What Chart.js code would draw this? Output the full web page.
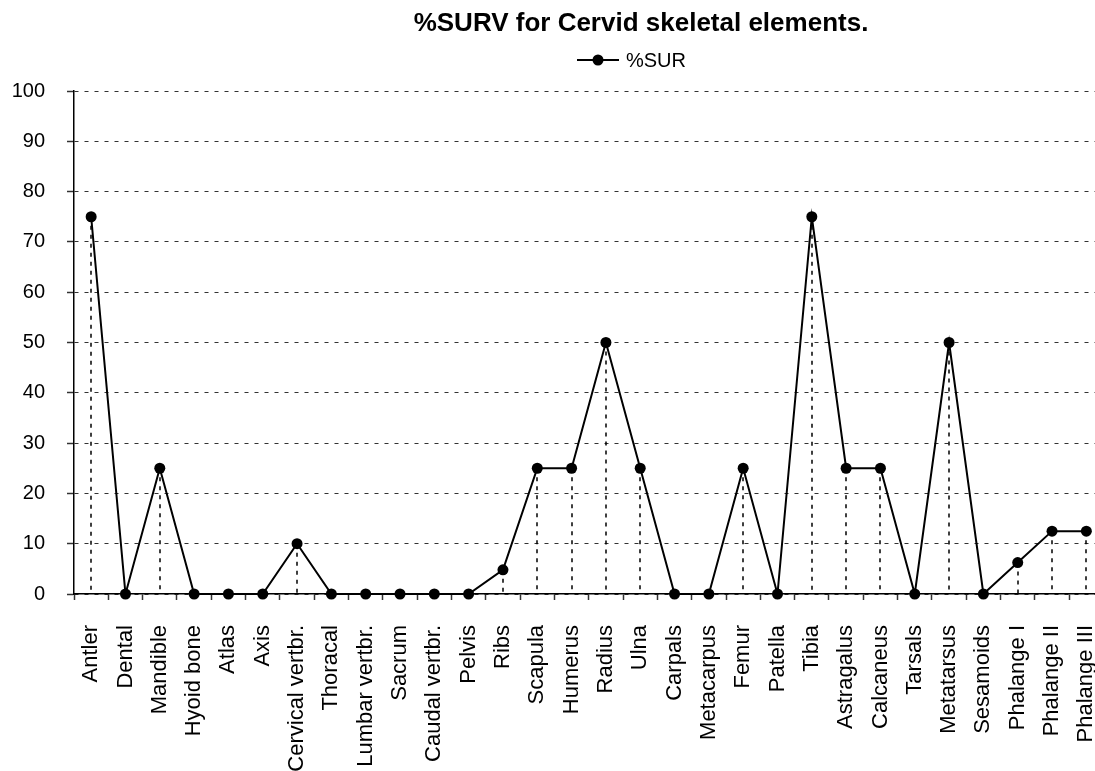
<!DOCTYPE html>
<html lang="en">
<head>
  <meta charset="UTF-8" />
  <title>%SURV for Cervid skeletal elements</title>
  <script src="https://cdn.jsdelivr.net/npm/chart.js"></script>
  <style>
    html, body {
      margin: 0;
      padding: 0;
      background: #fff;
      overflow: hidden;
    }
    canvas { display: block; }
  </style>
</head>
<body>
  <canvas id="survChart" width="1109" height="771"></canvas>

  <script>
    const elements = [
      "Antler", "Dental", "Mandible", "Hyoid bone", "Atlas", "Axis",
      "Cervical vertbr.", "Thoracal", "Lumbar vertbr.", "Sacrum", "Caudal vertbr.",
      "Pelvis", "Ribs", "Scapula", "Humerus", "Radius", "Ulna", "Carpals",
      "Metacarpus", "Femur", "Patella", "Tibia", "Astragalus", "Calcaneus",
      "Tarsals", "Metatarsus", "Sesamoids", "Phalange I", "Phalange II", "Phalange III"
    ];
    const survValues = [
      75, 0, 25, 0, 0, 0,
      10, 0, 0, 0, 0,
      0, 4.8, 25, 25, 50, 25, 0,
      0, 25, 0, 75, 25, 25,
      0, 50, 0, 6.25, 12.5, 12.5
    ];
    const yTicks = [0, 10, 20, 30, 40, 50, 60, 70, 80, 90, 100];
    const chartTitle = "%SURV for Cervid skeletal elements.";
    const seriesName = "%SUR";

    const FONT = "'Liberation Sans', Arial, sans-serif";

    // dotted drop line from every non-zero point down to the category axis
    const dropLines = {
      id: "dropLines",
      beforeDatasetsDraw(chart) {
        const { ctx, scales: { y } } = chart;
        const base = y.getPixelForValue(0);
        const meta = chart.getDatasetMeta(0);
        ctx.save();
        ctx.strokeStyle = "#000";
        ctx.lineWidth = 1.5;
        ctx.setLineDash([4, 5]);
        meta.data.forEach((pt, i) => {
          if (survValues[i] <= 0) return;
          const x = Math.round(pt.x);
          ctx.beginPath();
          ctx.moveTo(x, pt.y);
          ctx.lineTo(x, base);
          ctx.stroke();
        });
        ctx.restore();
      }
    };

    // title and the line+marker legend entry above the plot
    const header = {
      id: "header",
      afterDraw(chart) {
        const ctx = chart.ctx;
        ctx.save();
        ctx.fillStyle = "#000";
        ctx.textBaseline = "middle";
        ctx.textAlign = "center";
        ctx.font = "bold 26px " + FONT;
        ctx.fillText(chartTitle, 641, 24);

        const ly = 60;
        ctx.strokeStyle = "#000";
        ctx.lineWidth = 2;
        ctx.beginPath();
        ctx.moveTo(577, ly);
        ctx.lineTo(619, ly);
        ctx.stroke();
        ctx.beginPath();
        ctx.arc(598, ly, 5.5, 0, Math.PI * 2);
        ctx.fill();

        ctx.textAlign = "left";
        ctx.font = "20px " + FONT;
        ctx.fillText(chart.data.datasets[0].label, 626, ly + 1);
        ctx.restore();
      }
    };

    new Chart(document.getElementById("survChart"), {
      type: "line",
      data: {
        labels: elements,
        datasets: [{
          label: seriesName,
          data: survValues,
          borderColor: "#000",
          borderWidth: 2,
          backgroundColor: "#000",
          pointBackgroundColor: "#000",
          pointBorderColor: "#000",
          pointRadius: 5.5,
          pointBorderWidth: 0,
          tension: 0,
          fill: false,
          clip: false
        }]
      },
      options: {
        responsive: false,
        animation: false,
        layout: { padding: { top: 91, left: 0, right: 0, bottom: 0 } },
        plugins: {
          legend: { display: false },
          title: { display: false },
          tooltip: { enabled: false }
        },
        scales: {
          x: {
            offset: true,
            grid: {
              offset: true,
              drawOnChartArea: false,
              drawTicks: true,
              tickLength: 6,
              tickColor: "#333",
              tickWidth: 1.5
            },
            border: { color: "#000", width: 1.5 },
            ticks: {
              autoSkip: false,
              minRotation: 90,
              maxRotation: 90,
              padding: 25,
              color: "#000",
              font: { family: FONT, size: 22 }
            },
            afterFit: s => {
              s.height = 177;
              s.paddingLeft = 0;
              s.paddingRight = 0;
            }
          },
          y: {
            min: 0,
            max: 100,
            afterBuildTicks: s => { s.ticks = yTicks.map(v => ({ value: v })); },
            grid: {
              color: "#333",
              lineWidth: 1,
              tickLength: 7,
              tickColor: "#333",
              tickWidth: 1.5,
              tickBorderDash: []
            },
            border: { color: "#000", width: 1.5, dash: [4, 6] },
            ticks: {
              padding: 22,
              color: "#000",
              font: { family: FONT, size: 20 }
            },
            afterFit: s => {
              s.width = 74;
              s.paddingTop = 0;
              s.paddingBottom = 0;
            }
          }
        }
      },
      plugins: [dropLines, header]
    });
  </script>
</body>
</html>
